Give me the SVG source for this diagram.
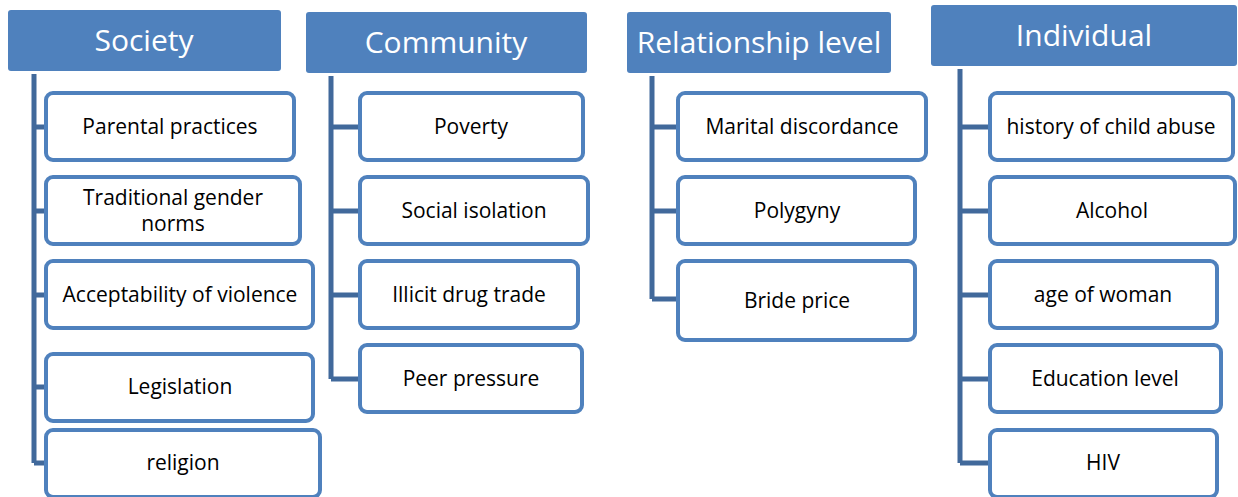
<svg xmlns="http://www.w3.org/2000/svg" width="1238" height="497" viewBox="0 0 1238 497">
<style>
.hdr{fill:#4f81bd;}
.ht{font-family:"Open Sans",sans-serif;font-size:30px;fill:#ffffff;text-anchor:middle;}
.box{fill:#ffffff;stroke:#4f81bd;stroke-width:4;}
.bt{font-family:"Open Sans",sans-serif;font-size:21px;fill:#000000;text-anchor:middle;}
.con{fill:none;stroke:#41699b;stroke-width:5;}
</style>
<rect width="1238" height="497" fill="#ffffff"/>
<g id="connectors">
<path class="con" d="M34 74 V463 M34 127 H46 M34 211 H46 M34 295 H46 M34 387 H46 M34 463 H46"/>
<path class="con" d="M331 76 V379 M331 127 H359 M331 211 H359 M331 295 H359 M331 379 H359"/>
<path class="con" d="M652 76 V299 M652 127 H677 M652 211 H677 M652 299 H677"/>
<path class="con" d="M960 69 V463 M960 127 H989 M960 211 H989 M960 295 H989 M960 379 H989 M960 463 H989"/>
</g>
<g id="society"><rect class="hdr" x="8" y="10" width="273" height="61" rx="3"/><text class="ht" x="144" y="51">Society</text></g>
<g id="community"><rect class="hdr" x="306" y="12" width="281" height="61" rx="3"/><text class="ht" x="446" y="53">Community</text></g>
<g id="relationship"><rect class="hdr" x="627" y="12" width="264" height="61" rx="3"/><text class="ht" x="759" y="53">Relationship level</text></g>
<g id="individual"><rect class="hdr" x="931" y="5" width="306" height="61" rx="3"/><text class="ht" x="1084" y="46">Individual</text></g>

<g id="parental"><rect class="box" x="46" y="93" width="248" height="67" rx="7"/><text class="bt" x="170" y="134">Parental practices</text></g>
<g id="gender"><rect class="box" x="46" y="177" width="254" height="67" rx="7"/><text class="bt" x="173" y="205">Traditional gender</text><text class="bt" x="173" y="231">norms</text></g>
<g id="violence"><rect class="box" x="46" y="261" width="267" height="67" rx="7"/><text class="bt" x="180" y="302">Acceptability of violence</text></g>
<g id="legislation"><rect class="box" x="46" y="354" width="267" height="67" rx="7"/><text class="bt" x="180" y="394">Legislation</text></g>
<g id="religion"><rect class="box" x="46" y="430" width="274" height="67" rx="7"/><text class="bt" x="183" y="470">religion</text></g>

<g id="poverty"><rect class="box" x="360" y="93" width="223" height="67" rx="7"/><text class="bt" x="471" y="134">Poverty</text></g>
<g id="isolation"><rect class="box" x="360" y="177" width="228" height="67" rx="7"/><text class="bt" x="474" y="218">Social isolation</text></g>
<g id="drug"><rect class="box" x="360" y="261" width="218" height="67" rx="7"/><text class="bt" x="469" y="302">Illicit drug trade</text></g>
<g id="peer"><rect class="box" x="360" y="345" width="222" height="67" rx="7"/><text class="bt" x="471" y="386">Peer pressure</text></g>

<g id="marital"><rect class="box" x="678" y="93" width="248" height="67" rx="7"/><text class="bt" x="802" y="134">Marital discordance</text></g>
<g id="polygyny"><rect class="box" x="678" y="177" width="237" height="67" rx="7"/><text class="bt" x="797" y="218">Polygyny</text></g>
<g id="bride"><rect class="box" x="678" y="261" width="237" height="79" rx="7"/><text class="bt" x="797" y="308">Bride price</text></g>

<g id="childabuse"><rect class="box" x="990" y="93" width="243" height="67" rx="7"/><text class="bt" x="1111" y="134">history of child abuse</text></g>
<g id="alcohol"><rect class="box" x="990" y="177" width="245" height="67" rx="7"/><text class="bt" x="1112" y="218">Alcohol</text></g>
<g id="age"><rect class="box" x="990" y="261" width="227" height="67" rx="7"/><text class="bt" x="1103" y="302">age of woman</text></g>
<g id="education"><rect class="box" x="990" y="345" width="231" height="67" rx="7"/><text class="bt" x="1105" y="386">Education level</text></g>
<g id="hiv"><rect class="box" x="990" y="430" width="227" height="67" rx="7"/><text class="bt" x="1103" y="470">HIV</text></g>
</svg>
